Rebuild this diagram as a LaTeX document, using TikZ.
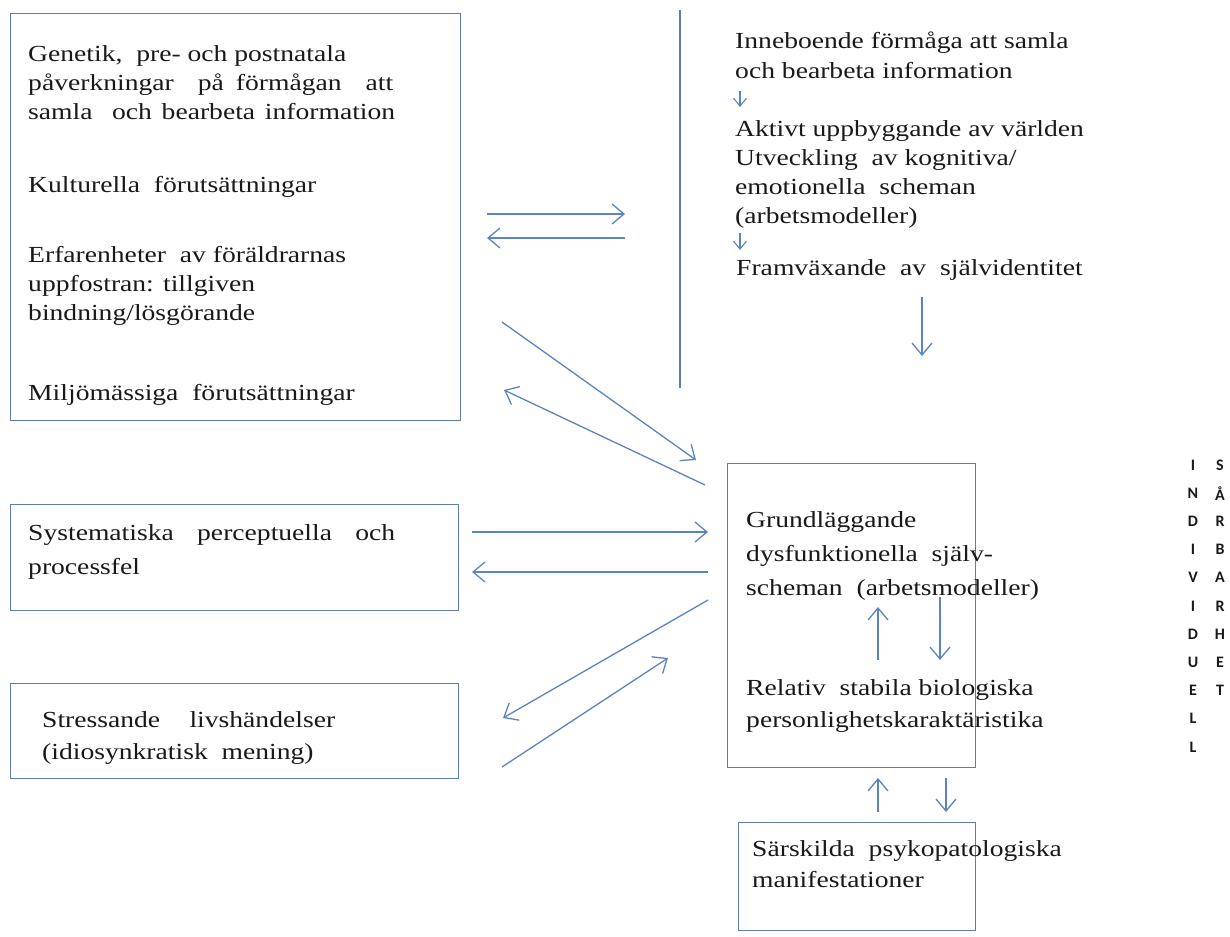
\documentclass[tikz,border=0pt]{standalone}
\usepackage{fontspec}
\setmainfont{Liberation Serif}[FakeStretch=1.2]
\newfontfamily\lettfont{Carlito}
\usetikzlibrary{arrows.meta}
\definecolor{lineblue}{RGB}{92,132,190}
\definecolor{boxblue}{RGB}{95,125,175}
\definecolor{txt}{RGB}{25,25,25}
\newcommand\jl[2]{\makebox[#1pt][s]{#2}}
\begin{document}
\begin{tikzpicture}[x=1pt,y=-1pt,
  box/.style={draw=boxblue,line width=1.3pt,anchor=north west,inner sep=0pt},
  tx/.style={anchor=base west,inner sep=0pt,align=left,text=txt,font=\fontsize{23}{29}\selectfont},
  arr/.style={draw=lineblue,line width=1.3pt,-{Straight Barb[length=12pt,width=20pt,line width=1.3pt]}},
  sarr/.style={draw=lineblue,line width=1.1pt,-{Straight Barb[length=8pt,width=13pt,line width=1.1pt]}},
  lett/.style={inner sep=0pt,text=txt,font=\lettfont\bfseries\fontsize{16}{16}\selectfont}]
\useasboundingbox (0,0) rectangle (1230,936);
% boxes
\node[box,minimum width=450pt,minimum height=407pt] (boxA) at (10,13) {};
\node[box,minimum width=448pt,minimum height=106pt] (boxB) at (10,504) {};
\node[box,minimum width=448pt,minimum height=95pt] (boxC) at (10,683) {};
\node[box,minimum width=248pt,minimum height=304pt] (boxG) at (727,463) {};
\node[box,minimum width=237pt,minimum height=108pt] (boxS) at (738,822) {};
\coordinate (vt) at (680,10); \coordinate (vb) at (680,388);
\draw[draw=boxblue,line width=1.3pt] (vt) -- (vb);
% texts box A (base anchor = last line)
\node[tx] (a1) at (28,120) {Genetik,~ pre- och postnatala\\\jl{365}{påverkningar~ på förmågan~ att}\\\jl{367}{samla~ och bearbeta information}};
\node[tx] (a2) at (28,192) {Kulturella~ förutsättningar};
\node[tx] (a3) at (28,320) {Erfarenheter~ av föräldrarnas\\uppfostran: tillgiven\\bindning/lösgörande};
\node[tx] (a4) at (28,400) {Miljömässiga~ förutsättningar};
% right column
\node[tx,font=\fontsize{23}{30}\selectfont] (r1) at (735,79) {Inneboende förmåga att samla\\och bearbeta information};
\node[tx] (r2) at (735,223) {Aktivt uppbyggande av världen\\Utveckling~ av kognitiva/\\emotionella~ scheman\\(arbetsmodeller)};
\node[tx] (r3) at (736,275) {Framväxande~ av~ självidentitet};
% box G
\node[tx,font=\fontsize{23}{34}\selectfont] (g1) at (746,595) {Grundläggande\\dysfunktionella~ själv-\\scheman~ (arbetsmodeller)};
\node[tx,font=\fontsize{23}{32}\selectfont] (g2) at (746,727) {Relativ~ stabila biologiska\\personlighetskaraktäristika};
\node[tx,font=\fontsize{23}{31}\selectfont] (s1) at (752,887) {Särskilda~ psykopatologiska\\manifestationer};
\node[tx,font=\fontsize{23}{34}\selectfont] (b1) at (28,574) {\jl{367}{Systematiska~ perceptuella~ och}\\processfel};
\node[tx,font=\fontsize{23}{32}\selectfont] (c1) at (42,759) {\jl{293}{Stressande~ livshändelser}\\(idiosynkratisk~ mening)};
% arrows
\coordinate (h1s) at (487,214); \coordinate (h1e) at (625,214);
\coordinate (h2s) at (625,238); \coordinate (h2e) at (487,238);
\draw[arr] (h1s) -- (h1e);
\draw[arr] (h2s) -- (h2e);
\coordinate (d1s) at (502,322); \coordinate (d1e) at (696,460);
\coordinate (d2s) at (705,485); \coordinate (d2e) at (504,390);
\draw[arr] (d1s) -- (d1e);
\draw[arr] (d2s) -- (d2e);
\coordinate (p1s) at (472,532); \coordinate (p1e) at (708,532);
\coordinate (p2s) at (708,572); \coordinate (p2e) at (472,572);
\draw[arr] (p1s) -- (p1e);
\draw[arr] (p2s) -- (p2e);
\coordinate (q1s) at (708,600); \coordinate (q1e) at (503,718);
\coordinate (q2s) at (502,767); \coordinate (q2e) at (668,658);
\draw[arr] (q1s) -- (q1e);
\draw[arr] (q2s) -- (q2e);
% vertical arrows right column
\coordinate (v1s) at (740,91); \coordinate (v1e) at (740,107);
\coordinate (v2s) at (740,233); \coordinate (v2e) at (740,250);
\draw[sarr] (v1s) -- (v1e);
\draw[sarr] (v2s) -- (v2e);
\coordinate (v3s) at (922,297); \coordinate (v3e) at (922,356);
\draw[arr] (v3s) -- (v3e);
\coordinate (g3s) at (878,660); \coordinate (g3e) at (878,607);
\coordinate (g4s) at (940,597); \coordinate (g4e) at (940,660);
\draw[arr] (g3s) -- (g3e);
\draw[arr] (g4s) -- (g4e);
\coordinate (s3s) at (878,812); \coordinate (s3e) at (878,778);
\coordinate (s4s) at (946,778); \coordinate (s4e) at (946,812);
\draw[arr] (s3s) -- (s3e);
\draw[arr] (s4s) -- (s4e);
% vertical letters
\foreach \l [count=\i] in {I,N,D,I,V,I,D,U,E,L,L}
  \node[lett] (ind\i) at (1193,465+28.2*\i-28.2) {\l};
\foreach \l [count=\i] in {S,Å,R,B,A,R,H,E,T}
  \node[lett] (sar\i) at (1220,465+28.2*\i-28.2) {\l};
\end{tikzpicture}
\end{document}
